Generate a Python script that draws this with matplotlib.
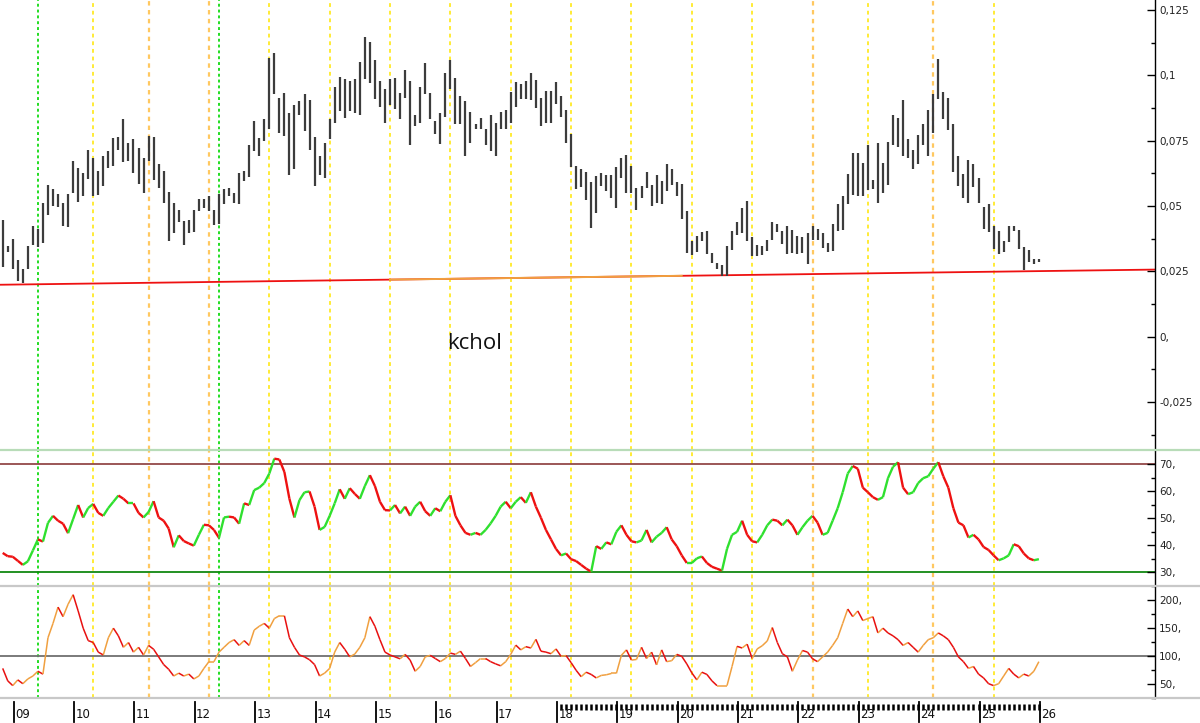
import numpy as np
import matplotlib
matplotlib.use("Agg")
import matplotlib.pyplot as plt
from matplotlib.collections import LineCollection
from matplotlib.lines import Line2D

# Monthly bars, index 0 = Nov 2008
highs = [
    .0445, .0349, .0374, .0295, .0260, .0349, .0422, .0412, .0512, .0582,
    .0566, .0547, .0512, .0547, .0671, .0646, .0627, .0714, .0684, .0633,
    .0693, .0710, .0761, .0765, .0831, .0742, .0755, .0723, .0684, .0767,
    .0765, .0659, .0633, .0553, .0512, .0486, .0442, .0445, .0486, .0527,
    .0527, .0540,
    .0486, .0547, .0566, .0570, .0550, .0627, .0633, .0732, .0825, .0761,
    .0834, .1067, .1084, .0914, .0931, .0854, .0885, .0901, .0927, .0905,
    .0765, .0691, .0742, .0831, .0956, .0995, .0984, .0978, .0984, .1051,
    .1148, .1127, .1058, .0978, .0949, .0984, .0991, .0933, .1020, .0978,
    .0850, .0956, .1048, .0931, .0825, .0857, .1007, .1058, .0991, .0920,
    .0901, .0859, .0812, .0838, .0795, .0850, .0818, .0859, .0869, .0936,
    .0974, .0965, .0978, .1007, .0982, .0914, .0940, .0940, .0974, .0920,
    .0869, .0774, .0652, .0642, .0629, .0591, .0614, .0627, .0620, .0620,
    .0650,
    .0684, .0697, .0652, .0570, .0576, .0629, .0582, .0617, .0595, .0659,
    .0642, .0591, .0586, .0480, .0365, .0384, .0399, .0403, .0321, .0282,
    .0276, .0346, .0403, .0438, .0493, .0518, .0382, .0352, .0349, .0369,
    .0438, .0433, .0403, .0425, .0410, .0387, .0382, .0397, .0422, .0412,
    .0397,
    .0359, .0433, .0509, .0537, .0624, .0701, .0701, .0663, .0735, .0599,
    .0742, .0663, .0744, .0850, .0838, .0905, .0757, .0716, .0770, .0812,
    .0869, .0927, .1061, .0936, .0914, .0812, .0691, .0624, .0675, .0659,
    .0608, .0497, .0509, .0422, .0403, .0365, .0422, .0425, .0407, .0344,
    .0331, .0298, .0298,
]
lows = [
    .0267, .0323, .0259, .0212, .0206, .0259, .0352, .0344, .0359, .0467,
    .0499, .0497, .0422, .0420, .0548, .0516, .0540, .0605, .0540, .0541,
    .0576, .0646, .0652, .0716, .0668, .0671, .0627, .0586, .0550, .0671,
    .0601, .0570, .0512, .0365, .0397, .0438, .0352, .0397, .0399, .0480,
    .0493, .0480,
    .0429, .0432, .0506, .0537, .0512, .0506, .0595, .0612, .0710, .0691,
    .0748, .0795, .0927, .0780, .0767, .0620, .0640, .0850, .0786, .0716,
    .0578, .0620, .0608, .0755, .0818, .0863, .0838, .0863, .0857, .0850,
    .0984, .0969, .0910, .0880, .0816, .0885, .0872, .0831, .0914, .0735,
    .0806, .0818, .0927, .0834, .0774, .0739, .0841, .0946, .0812, .0812,
    .0693, .0742, .0795, .0793, .0735, .0710, .0693, .0793, .0795, .0816,
    .0880, .0908, .0908, .0905, .0876, .0808, .0816, .0818, .0889, .0841,
    .0742, .0650, .0566, .0573, .0522, .0416, .0474, .0576, .0557, .0531,
    .0493,
    .0608, .0550, .0550, .0486, .0531, .0570, .0499, .0512, .0506, .0557,
    .0582, .0537, .0451, .0321, .0314, .0323, .0365, .0318, .0282, .0259,
    .0231, .0231, .0331, .0391, .0397, .0365, .0308, .0308, .0314, .0327,
    .0369, .0399, .0356, .0318, .0321, .0318, .0321, .0280, .0369, .0369,
    .0340,
    .0323, .0327, .0403, .0407, .0509, .0544, .0537, .0537, .0560, .0566,
    .0512, .0550, .0582, .0735, .0727, .0693, .0684, .0640, .0659, .0735,
    .0693, .0780, .0908, .0831, .0790, .0629, .0578, .0531, .0512, .0573,
    .0512, .0412, .0399, .0336, .0318, .0323, .0361, .0403, .0336, .0257,
    .0285, .0280, .0285,
]
rsi = [
    37.2, 36.0, 35.8, 34.3, 32.8, 34.1, 38.1, 42.2, 41.4, 48.3,
    50.9, 49.1, 48.0, 44.5, 49.7, 54.9, 50.3, 53.8, 55.3, 52.0,
    50.9, 53.8, 56.1, 58.4, 57.2, 55.5, 55.5, 52.0, 50.3, 52.3,
    56.3, 50.3, 49.1, 46.2, 39.3, 43.7, 41.6, 40.7, 39.9, 43.9,
    47.6, 47.4, 45.7, 42.8, 50.3, 50.6, 50.3, 48.0, 55.5, 54.9,
    60.4, 61.3, 63.0, 66.5, 72.0, 71.7, 67.1, 57.2, 50.3, 56.7,
    59.6, 59.9, 54.3, 45.7, 46.8, 50.9, 55.5, 60.7, 57.2, 61.1,
    59.0, 57.2, 61.9, 65.9, 61.9, 56.1, 53.0, 52.9, 54.9, 51.8,
    54.3,
    50.9, 54.3, 56.1, 52.6, 50.9, 53.7, 52.6, 56.1, 58.5, 50.9,
    47.4, 44.6, 43.9, 44.6, 43.9, 45.7, 48.1, 50.9, 54.3, 56.1,
    53.7, 56.1, 57.8, 55.7, 59.6, 54.3, 50.2, 45.7, 42.2, 38.7,
    36.3, 37.0, 34.9, 34.2, 32.8, 31.4, 30.3, 39.7, 38.7, 41.1,
    40.4, 45.0, 47.4, 43.9, 41.5, 41.1, 41.8, 45.7, 41.1, 43.2,
    44.6, 46.7, 42.2, 39.7, 36.3, 33.5, 33.5, 35.2, 35.9, 33.5,
    32.1, 31.4, 30.7, 38.7, 43.9, 45.0, 49.1, 43.9, 41.5, 41.1,
    43.9, 47.4, 49.5, 49.1, 47.4, 49.5, 47.4, 43.9, 46.7, 49.1,
    50.9, 48.4, 43.9, 44.6, 49.1, 53.7, 59.6, 66.5, 69.3, 68.3,
    61.3, 59.6, 57.8, 56.8, 57.8, 64.8, 69.0, 70.7, 61.3, 58.9,
    59.6, 63.0, 64.8, 65.5, 68.3, 70.7, 65.5, 61.3, 53.7, 48.4,
    47.4, 42.9, 43.9, 42.2, 39.4, 38.3, 36.3, 34.5, 35.2, 36.3,
    40.4, 39.7, 37.0, 35.2, 34.5, 34.9,
]
momentum = [
    77.8, 55.6, 47.1, 57.3, 50.5, 59.0, 64.2, 72.7, 67.6, 132.4,
    158.0, 187.0, 170.0, 192.2, 209.2, 180.2, 149.5, 127.3, 123.9, 106.8,
    101.7, 132.4, 149.5, 135.8, 115.4, 123.9, 106.8, 115.4, 101.7, 118.8,
    111.9, 98.3, 84.6, 76.1, 64.2, 69.3, 64.2, 67.6, 59.0, 64.2,
    77.8, 89.8, 89.8, 106.8, 115.4, 123.9, 129.0, 118.8, 127.3, 118.8,
    146.1, 152.9, 158.0, 149.5, 166.6, 171.7, 171.7, 132.4, 115.4, 101.7,
    98.3, 93.2, 84.6, 64.2, 69.3, 77.8, 106.8, 123.9, 111.9, 98.3,
    103.4, 115.4, 132.4, 170.0, 152.9, 129.0, 106.8, 101.7, 98.3, 94.9,
    102.8, 92.6, 72.7, 81.2, 98.3, 101.1, 95.4, 89.8, 95.4, 105.1,
    102.8, 108.5, 95.4, 81.2, 88.1, 95.4, 95.4, 89.8, 85.8, 82.4,
    89.8, 102.8, 119.3, 110.8, 116.5, 114.2, 129.6, 108.5, 106.8, 104.0,
    112.5, 99.4, 100.6, 88.1, 74.4, 63.0, 71.0, 67.0, 60.8, 65.3,
    66.4, 68.7, 68.7, 101.1, 110.8, 92.6, 93.7, 115.4, 95.4, 106.8,
    84.1, 110.8, 89.8, 91.5, 102.8, 99.4, 85.8, 69.8, 57.3, 71.0,
    67.0, 55.6, 47.1, 47.1, 47.1, 81.2, 117.1, 114.2, 121.0, 95.4,
    112.5, 118.2, 126.7, 150.6, 123.9, 104.0, 98.3, 72.7, 92.6, 109.7,
    106.8, 94.9, 89.8, 98.3, 106.8, 118.8, 132.4, 158.0, 183.6, 170.0,
    180.2, 163.1, 166.6, 170.0, 141.0, 149.5, 141.0, 135.8, 129.0, 118.8,
    123.9, 115.4, 106.8, 118.8, 129.0, 132.4, 141.0, 135.8, 129.0, 115.4,
    98.3, 89.8, 77.8, 81.2, 67.6, 60.8, 50.5, 47.1, 50.5, 64.2,
    77.8, 67.6, 60.8, 67.6, 64.2, 72.7, 89.8,
]

year_labels = ["09", "10", "11", "12", "13", "14", "15", "16", "17",
               "18", "19", "20", "21", "22", "23", "24", "25", "26"]
first_jan = 2          # bar index of Jan 2009
marks_green = [7, 43]
marks_yellow = [18, 53, 65, 77, 89, 101, 113, 125, 137, 149, 172, 197]
marks_orange = [29, 41, 161, 185]
trend_ends = [0.0199, 0.0257]
trend_orange = [77, 135]

price_ticks = [0.125, 0.1, 0.075, 0.05, 0.025, 0.0, -0.025]
price_labels = ["0,125", "0,1", "0,075", "0,05", "0,025", "0,", "-0,025"]
rsi_ticks = [70, 60, 50, 40, 30]
rsi_labels = ["70,", "60,", "50,", "40,", "30,"]
mom_ticks = [200, 150, 100, 50]
mom_labels = ["200,", "150,", "100,", "50,"]

W, H = 1200, 723
STEP = 5.03           # px per bar
fig = plt.figure(figsize=(W / 100, H / 100), dpi=100, facecolor="white")


def px_axes(x0, y0, x1, y1):
    return fig.add_axes([x0 / W, 1 - y1 / H, (x1 - x0) / W, (y1 - y0) / H])


ax_p = px_axes(0, 0, 1155, 450)
ax_r = px_axes(0, 450, 1155, 586)
ax_m = px_axes(0, 587, 1155, 698)
ax_x = px_axes(0, 698, 1155, 723)

x = np.arange(len(highs))
xlim = (-2.7 / STEP, (1155 - 2.7) / STEP)

for ax in (ax_p, ax_r, ax_m, ax_x):
    ax.set_xlim(*xlim)
    ax.set_facecolor("none")
    for s in ("top", "left", "bottom"):
        ax.spines[s].set_visible(False)
    ax.set_xticks([])

ax_p.set_ylim(-0.0433, 0.1288)
ax_r.set_ylim(27.9, 75.2)
ax_m.set_ylim(33.4, 222.9)
ax_x.set_ylim(0, 1)
ax_x.spines["right"].set_visible(False)
ax_x.set_yticks([])

# cycle marker lines through all panels
for ax in (ax_p, ax_r, ax_m):
    for m in marks_yellow:
        ax.axvline(m, color="#ffe600", lw=1.1, ls=(0, (2.5, 2.5)), zorder=0)
    for m in marks_orange:
        ax.axvline(m, color="#ffc860", lw=1.6, ls=(0, (2, 2)), zorder=0)
    for m in marks_green:
        ax.axvline(m, color="#22dd22", lw=1.4, ls=(0, (1.5, 1.5)), zorder=0)

# price bars
ax_p.vlines(x, lows, highs, color="#3c3c3c", lw=1.6, zorder=3)
tx = np.array(xlim)
ax_p.plot(tx, trend_ends, color="#ee1111", lw=1.3, zorder=2)
ox = np.array(trend_orange)
ax_p.plot(ox, np.interp(ox, tx, trend_ends), color="#f0a040", lw=1.4, zorder=2)
ax_p.text(472 / STEP, (337 - 344) * 0.025 / 65.3, "kchol", fontsize=16,
          family="Open Sans", ha="center", va="center", color="#111111")

# RSI
rv = np.array(rsi)
pts = np.column_stack([x, rv])
segs = np.stack([pts[:-1], pts[1:]], axis=1)
cols = np.where(np.diff(rv) >= 0, "#2fe02f", "#ee1111")
ax_r.add_collection(LineCollection(segs, colors=cols, linewidths=1.7, zorder=3))
ax_r.axhline(70, color="#8a3a3a", lw=1.2, zorder=1)
ax_r.axhline(30, color="#118811", lw=1.3, zorder=1)

# momentum
mv = np.array(momentum)
pts = np.column_stack([x, mv])
segs = np.stack([pts[:-1], pts[1:]], axis=1)
cols = np.where(np.diff(mv) >= 0, "#f0a040", "#e81010")
ax_m.add_collection(LineCollection(segs, colors=cols, linewidths=1.1, zorder=3))
ax_m.axhline(100, color="#707070", lw=1.3, zorder=1)

# right-hand scales
for ax, ticks, labels in ((ax_p, price_ticks, price_labels),
                          (ax_r, rsi_ticks, rsi_labels),
                          (ax_m, mom_ticks, mom_labels)):
    ax.yaxis.tick_right()
    ax.set_yticks(ticks)
    ax.set_yticklabels(labels)
    mids = [(a + b) / 2 for a, b in zip(ticks[:-1], ticks[1:])]
    mids += [ticks[-1] - (ticks[0] - ticks[1]) / 2]
    ax.set_yticks(mids, minor=True)
    ax.tick_params(axis="y", which="major", direction="in", length=6,
                   width=1, pad=3, labelsize=7.5, labelcolor="#222222")
    ax.tick_params(axis="y", which="minor", direction="in", length=3, width=1)
    ax.spines["right"].set_color("black")
    ax.spines["right"].set_linewidth(1)

# x axis strip: year ticks and bar ticks
for k, lab in enumerate(year_labels):
    xp = first_jan + 12 * k + 0.2
    ax_x.plot([xp, xp], [0.05, 0.85], color="black", lw=1.3)
    ax_x.text(xp + 0.25, 0.1, lab, fontsize=8.5, va="bottom", ha="left",
              color="#111111")
ax_x.vlines(x[first_jan + 12 * 9 + 1:], 0.52, 0.76, color="black", lw=1.8)

# panel separators
for yy, c in ((450, "#b8dcb8"), (586, "#c8c8c8"), (698, "#c8c8c8")):
    fig.add_artist(Line2D([0, 1], [1 - yy / H] * 2, color=c, lw=1.6,
                          transform=fig.transFigure))

fig.savefig("out.png", dpi=100, facecolor="white")
